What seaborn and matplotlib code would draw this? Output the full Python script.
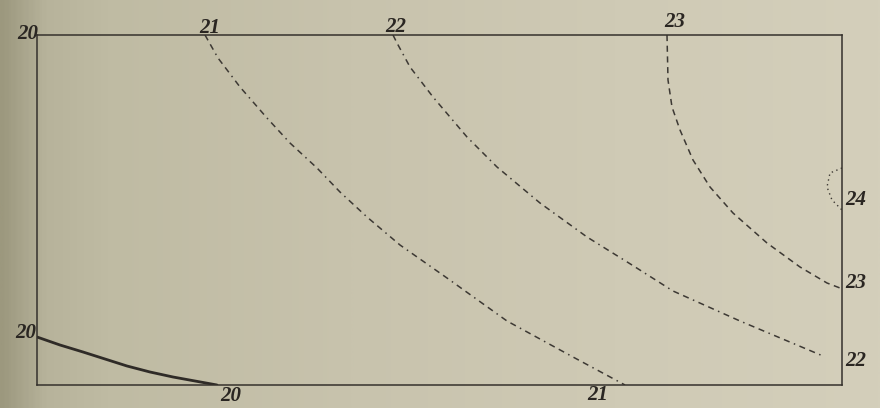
import numpy as np
import pandas as pd
import matplotlib
matplotlib.use("Agg")
import matplotlib.pyplot as plt
from matplotlib.colors import LinearSegmentedColormap
import seaborn as sns

# Isotherm traces, in units measured inside the frame (x 0..805, y 0..350)
iso20_x = [0, 23, 46, 68, 90, 113, 136, 158, 180]
iso20_y = [48, 40, 33, 26, 19, 13, 8, 4, 0]

iso21_x = [168, 181, 203, 230, 253, 280, 303, 330, 363, 410, 470, 536, 588]
iso21_y = [350, 327, 298, 267, 242, 217, 193, 168, 140, 107, 64, 28, 0]

iso22_x = [356, 360, 373, 396, 430, 460, 503, 550, 595, 636, 703, 786]
iso22_y = [350, 342, 318, 288, 248, 218, 182, 148, 120, 94, 64, 29]

iso23_x = [630, 631, 635, 643, 656, 673, 696, 730, 763, 790, 803]
iso23_y = [350, 305, 278, 255, 225, 198, 172, 142, 118, 102, 97]

iso24_x = [805, 793, 790, 795, 805]
iso24_y = [217, 212, 198, 185, 175]

# Labels written at the ends of the lines
label_text = ["20", "21", "22", "23", "24", "23", "22", "20", "20", "21"]
label_x = [1, 173, 359, 638, 808, 808, 808, -1, 194, 561]
label_y = [351, 357, 358, 363, 185, 102, 24, 52, -11, -10]
label_ha = ["right", "center", "center", "center", "left", "left", "left", "right", "center", "center"]

sns.set_style("white")
plt.rcParams["font.family"] = ["Liberation Serif", "DejaVu Serif"]

fig = plt.figure(figsize=(8.8, 4.08), dpi=100)

# paper tone, darker toward the binding on the left
bg = fig.add_axes([0, 0, 1, 1])
paper = LinearSegmentedColormap.from_list(
    "paper",
    [(0.0, "#9c987e"), (0.02, "#a7a38a"), (0.05, "#b7b39b"), (0.12, "#bfbba3"),
     (0.4, "#c8c3ad"), (0.7, "#cfcab5"), (1.0, "#d4cfbb")])
bg.imshow(np.linspace(0, 1, 400).reshape(1, -1), aspect="auto", cmap=paper,
          extent=[0, 1, 0, 1])
bg.set_axis_off()

ax = fig.add_axes([37 / 880, 1 - 385 / 408, 805 / 880, 350 / 408])
ax.set_facecolor("none")

ink = "#2f2b27"
dash_ink = "#3d3934"
lines = [
    (iso20_x, iso20_y, 2.0, None, ink),
    (iso21_x, iso21_y, 1.1, (4, 3, 4, 3, 1, 3), dash_ink),
    (iso22_x, iso22_y, 1.1, (4, 3, 4, 3, 1, 3), dash_ink),
    (iso23_x, iso23_y, 1.1, (4, 3), dash_ink),
    (iso24_x, iso24_y, 1.0, (1, 2.5), dash_ink),
]
for xs, ys, lw, dash, col in lines:
    df = pd.DataFrame({"x": xs, "y": ys})
    sns.lineplot(data=df, x="x", y="y", sort=False, estimator=None,
                 color=col, linewidth=lw, ax=ax)
    if dash is not None:
        ax.lines[-1].set_dashes(dash)

ax.set_xlim(0, 805)
ax.set_ylim(0, 350)
ax.set_xticks([])
ax.set_yticks([])
ax.set_xlabel("")
ax.set_ylabel("")
for side in ["left", "right", "top", "bottom"]:
    ax.spines[side].set_visible(True)
    ax.spines[side].set_color("#35312c")
    ax.spines[side].set_linewidth(1.1)

for t, x, y, ha in zip(label_text, label_x, label_y, label_ha):
    ax.text(x, y, t, ha=ha, va="center", fontsize=15, fontstyle="italic",
            fontweight="bold", color="#2a2622", clip_on=False)

fig.savefig("out.png", dpi=100)
